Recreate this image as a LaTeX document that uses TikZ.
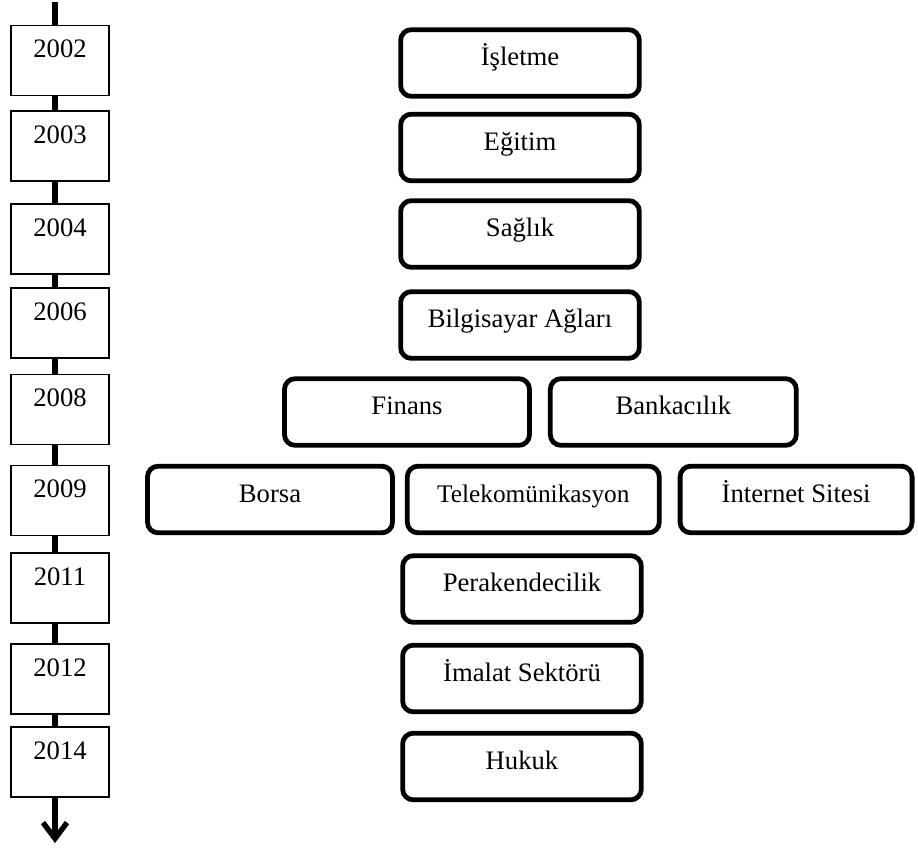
\documentclass[tikz,border=0pt]{standalone}
\usepackage{fontspec}
\setmainfont{Liberation Serif}
\usetikzlibrary{arrows.meta,positioning}

\begin{document}
\begin{tikzpicture}[
  x=0.75pt, y=-0.75pt,
  yearbox/.style={draw, line width=1.3pt, fill=white, minimum width=73.5pt, inner sep=0pt, text height=24pt, text depth=28.5pt, font=\fontsize{20}{24}\selectfont},
  areabox/.style={draw, line width=3.6pt, rounded corners=8pt, fill=white, inner sep=0pt, minimum width=#1, text height=27pt, text depth=23pt, font=\fontsize{20}{24}\selectfont},
  areabox/.default=179pt,
  axis/.style={line width=4pt, -{Straight Barb[length=12pt,width=18pt]}}
]
\useasboundingbox (0,0) rectangle (918,850);

% Time axis
\coordinate (top) at (55,2);
\coordinate (bot) at (55,843);
\draw[axis] (top) -- (bot);

\foreach \yr/\cy in {2002/60.5,2003/146,2004/239,2006/323,2008/409.5,2009/500.5,2011/588,2012/679,2014/762} {
  \node[yearbox] (y\yr) at (60,\cy) {\yr};
}

% Fields
\node[areabox] (isletme) at (520,63) {İşletme};
\node[areabox] (egitim) at (520,147.5) {Eğitim};
\node[areabox] (saglik) at (520,234) {Sağlık};
\node[areabox] (aglar) at (520,325) {Bilgisayar Ağları};

\node[areabox=183.75pt] (finans) at (407,412) {Finans};
\node[areabox=184.5pt, right=12pt of finans] (banka) {Bankacılık};

\node[areabox=183.75pt] (borsa) at (270,499.5) {Borsa};
\node[areabox=189pt, right=7.5pt of borsa, font=\fontsize{19}{22}\selectfont] (telekom) {Telekomünikasyon};
\node[areabox=174pt, right=12pt of telekom] (internet) {İnternet Sitesi};

\node[areabox] (perakende) at (522,589) {Perakendecilik};
\node[areabox] (imalat) at (522,678.5) {İmalat Sektörü};
\node[areabox] (hukuk) at (522,766.5) {Hukuk};
\end{tikzpicture}
\end{document}
